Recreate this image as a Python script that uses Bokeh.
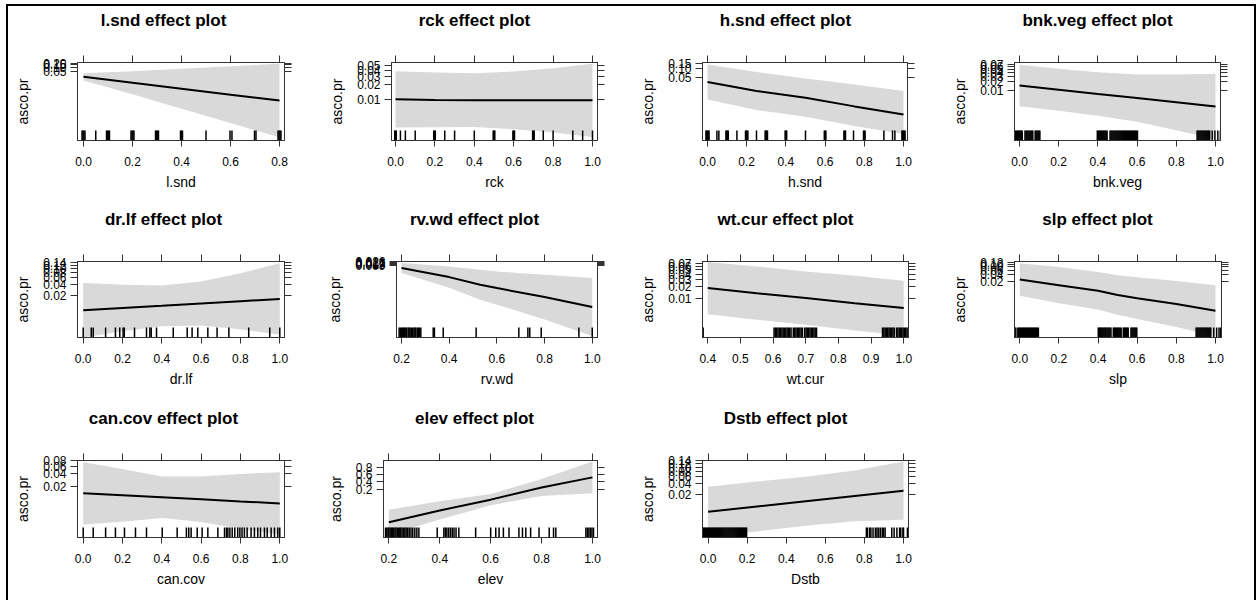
import math
from bokeh.plotting import figure
from bokeh.models import (FixedTicker, LinearAxis, Range1d, PrintfTickFormatter, Div, AllLabels)
from bokeh.layouts import column, row
from bokeh.embed import file_html
from bokeh.resources import INLINE

# ---------------- data: fitted effect and 95% band on the logit scale, rug = observed x ----------
lsnd_x = [0.0, 0.2, 0.4, 0.6, 0.8]
lsnd_fit = [-3.97, -5.08, -6.20, -7.31, -8.42]
lsnd_lower = [-4.64, -7.24, -9.93, -12.64, -15.31]
lsnd_upper = [-3.30, -2.92, -2.47, -1.98, -1.53]
lsnd_rug = [-0.006, -0.002, 0.002, 0.006, 0.05, 0.094, 0.098, 0.102, 0.106, 0.194, 0.198, 0.202,
            0.206, 0.294, 0.298, 0.302, 0.306, 0.396, 0.400, 0.404, 0.500, 0.598, 0.606, 0.698,
            0.704, 0.794, 0.798, 0.802, 0.806]
lsnd_yticks = [0.05, 0.10, 0.15, 0.20]
lsnd_ylabels = ["0.05", "0.10", "0.15", "0.20"]
lsnd_xticks = [0.0, 0.2, 0.4, 0.6, 0.8]
lsnd_xlim = [-0.0245, 0.8204]
lsnd_ylim = [-15.9, -1.29]

rck_x = [0.0, 0.2, 0.4, 0.6, 0.8, 1.0]
rck_fit = [-4.59, -4.62, -4.63, -4.64, -4.64, -4.64]
rck_lower = [-5.96, -5.95, -5.94, -6.04, -6.20, -6.42]
rck_upper = [-3.22, -3.29, -3.32, -3.24, -3.08, -2.86]
rck_rug = [-0.004, 0.0, 0.004, 0.025, 0.05, 0.10, 0.194, 0.198, 0.202, 0.25, 0.30, 0.40, 0.496,
           0.50, 0.504, 0.596, 0.60, 0.604, 0.696, 0.70, 0.704, 0.75, 0.80, 0.90, 0.95, 1.0]
rck_yticks = [0.01, 0.02, 0.03, 0.04, 0.05]
rck_ylabels = ["0.01", "0.02", "0.03", "0.04", "0.05"]
rck_xticks = [0.0, 0.2, 0.4, 0.6, 0.8, 1.0]
rck_xlim = [-0.0203, 1.0254]
rck_ylim = [-6.59, -2.80]

hsnd_x = [0.0, 0.25, 0.5, 0.75, 1.0]
hsnd_fit = [-3.32, -4.10, -4.67, -5.42, -6.11]
hsnd_lower = [-4.82, -5.74, -6.31, -7.10, -7.80]
hsnd_upper = [-1.82, -2.46, -3.03, -3.55, -4.10]
hsnd_rug = [-0.008, -0.004, 0.0, 0.004, 0.008, 0.048, 0.058, 0.094, 0.098, 0.102, 0.106, 0.15,
            0.194, 0.198, 0.202, 0.206, 0.25, 0.294, 0.298, 0.302, 0.306, 0.396, 0.40, 0.404,
            0.50, 0.596, 0.60, 0.604, 0.696, 0.70, 0.704, 0.745, 0.796, 0.80, 0.804, 0.90,
            0.944, 0.956, 0.992, 0.996, 1.0, 1.004, 1.008]
hsnd_yticks = [0.05, 0.10, 0.15]
hsnd_ylabels = ["0.05", "0.10", "0.15"]
hsnd_xticks = [0.0, 0.2, 0.4, 0.6, 0.8, 1.0]
hsnd_xlim = [-0.0255, 1.0204]
hsnd_ylim = [-8.35, -1.65]

bnk_x = [0.0, 0.2, 0.4, 0.6, 0.8, 1.0]
bnk_fit = [-4.21, -4.54, -4.87, -5.19, -5.52, -5.85]
bnk_lower = [-5.83, -6.18, -6.57, -7.03, -7.69, -8.41]
bnk_upper = [-2.59, -2.90, -3.17, -3.35, -3.35, -3.29]
bnk_rug = [-0.024, -0.019, -0.014, -0.009, -0.004, 0.0, 0.004, 0.009, 0.014, 0.028, 0.033, 0.038,
           0.043, 0.048, 0.053, 0.058, 0.063, 0.068, 0.080, 0.085, 0.090, 0.095, 0.100, 0.104,
           0.397, 0.402, 0.407, 0.412, 0.417, 0.422, 0.427, 0.432, 0.437, 0.442, 0.447, 0.462,
           0.467, 0.472, 0.477, 0.482, 0.487, 0.492, 0.497, 0.502, 0.507, 0.512, 0.517, 0.522,
           0.527, 0.532, 0.537, 0.542, 0.547, 0.552, 0.557, 0.562, 0.567, 0.572, 0.577, 0.582,
           0.587, 0.592, 0.597, 0.602, 0.906, 0.911, 0.916, 0.921, 0.926, 0.931, 0.936, 0.941,
           0.946, 0.951, 0.956, 0.961, 0.966, 0.970, 0.983, 0.997, 1.012, 1.025]
bnk_yticks = [0.01, 0.02, 0.03, 0.04, 0.05, 0.06, 0.07]
bnk_ylabels = ["0.01", "0.02", "0.03", "0.04", "0.05", "0.06", "0.07"]
bnk_xticks = [0.0, 0.2, 0.4, 0.6, 0.8, 1.0]
bnk_xlim = [-0.0255, 1.0255]
bnk_ylim = [-8.50, -2.41]

drlf_x = [0.0, 0.2, 0.4, 0.6, 0.8, 1.0]
drlf_fit = [-4.83, -4.69, -4.55, -4.40, -4.26, -4.12]
drlf_lower = [-6.55, -6.16, -5.84, -5.79, -6.03, -6.38]
drlf_upper = [-3.11, -3.22, -3.26, -3.01, -2.49, -1.86]
drlf_rug = [0.0, 0.041, 0.051, 0.114, 0.164, 0.186, 0.203, 0.209, 0.261, 0.322, 0.339, 0.346,
            0.373, 0.458, 0.529, 0.554, 0.583, 0.634, 0.681, 0.741, 0.842, 0.949, 1.0]
drlf_yticks = [0.02, 0.04, 0.06, 0.08, 0.10, 0.12, 0.14]
drlf_ylabels = ["0.02", "0.04", "0.06", "0.08", "0.10", "0.12", "0.14"]
drlf_xticks = [0.0, 0.2, 0.4, 0.6, 0.8, 1.0]
drlf_xlim = [-0.029, 1.024]
drlf_ylim = [-6.55, -1.75]

rvwd_x = [0.2, 0.4, 0.53, 0.6, 0.8, 1.0]
rvwd_fit = [-5.33, -7.77, -9.85, -10.74, -13.17, -15.88]
rvwd_lower = [-6.68, -10.64, -13.91, -15.23, -19.20, -23.72]
rvwd_upper = [-3.98, -4.90, -5.79, -6.25, -7.14, -8.04]
rvwd_rug = [0.190, 0.195, 0.200, 0.205, 0.209, 0.213, 0.218, 0.222, 0.228, 0.232, 0.236, 0.241,
            0.246, 0.252, 0.256, 0.260, 0.266, 0.271, 0.276, 0.281, 0.333, 0.338, 0.375, 0.513,
            0.692, 0.730, 0.738, 0.786, 0.944, 1.0]
rvwd_yticks = [0.009, 0.013, 0.017, 0.021, 0.026]
rvwd_ylabels = ["0.009", "0.013", "0.017", "0.021", "0.026"]
rvwd_xticks = [0.2, 0.4, 0.6, 0.8, 1.0]
rvwd_xlim = [0.179, 1.022]
rvwd_ylim = [-24.1, -3.55]

wtcur_x = [0.4, 0.55, 0.7, 0.85, 1.0]
wtcur_fit = [-3.98, -4.27, -4.55, -4.84, -5.12]
wtcur_lower = [-5.47, -5.79, -6.07, -6.40, -6.68]
wtcur_upper = [-2.49, -2.75, -3.03, -3.28, -3.56]
wtcur_rug = [0.386, 0.603, 0.607, 0.611, 0.615, 0.619, 0.623, 0.627, 0.631, 0.635, 0.639, 0.643,
             0.647, 0.651, 0.655, 0.662, 0.666, 0.670, 0.674, 0.678, 0.682, 0.686, 0.690, 0.697,
             0.701, 0.705, 0.709, 0.713, 0.717, 0.721, 0.725, 0.729, 0.733, 0.935, 0.939, 0.943,
             0.947, 0.951, 0.955, 0.959, 0.963, 0.967, 0.971, 0.978, 0.982, 0.986, 0.990, 0.994,
             0.998, 1.002, 1.006, 1.010, 1.014]
wtcur_yticks = [0.01, 0.02, 0.03, 0.04, 0.05, 0.06, 0.07]
wtcur_ylabels = ["0.01", "0.02", "0.03", "0.04", "0.05", "0.06", "0.07"]
wtcur_xticks = [0.4, 0.5, 0.6, 0.7, 0.8, 0.9, 1.0]
wtcur_xlim = [0.384, 1.0145]
wtcur_ylim = [-6.80, -2.46]

slp_x = [0.0, 0.2, 0.4, 0.5, 0.6, 0.8, 1.0]
slp_fit = [-3.66, -4.21, -4.75, -5.16, -5.47, -6.04, -6.68]
slp_lower = [-5.24, -5.96, -6.56, -7.07, -7.50, -8.26, -9.15]
slp_upper = [-2.08, -2.46, -2.94, -3.25, -3.44, -3.82, -4.21]
slp_rug = [-0.025, -0.020, -0.010, -0.005, 0.0, 0.005, 0.010, 0.015, 0.020, 0.025, 0.030, 0.035,
           0.040, 0.045, 0.050, 0.055, 0.060, 0.065, 0.070, 0.075, 0.080, 0.085, 0.090, 0.095,
           0.401, 0.406, 0.411, 0.416, 0.421, 0.426, 0.431, 0.436, 0.441, 0.446, 0.451, 0.456,
           0.461, 0.466, 0.478, 0.483, 0.488, 0.493, 0.498, 0.503, 0.508, 0.513, 0.518, 0.529,
           0.534, 0.539, 0.544, 0.549, 0.554, 0.568, 0.573, 0.578, 0.583, 0.588, 0.593, 0.598,
           0.901, 0.906, 0.911, 0.916, 0.921, 0.926, 0.931, 0.936, 0.941, 0.946, 0.951, 0.956,
           0.961, 0.966, 0.971, 0.976, 0.991, 1.006, 1.018, 1.026]
slp_yticks = [0.02, 0.04, 0.06, 0.08, 0.10, 0.12]
slp_ylabels = ["0.02", "0.04", "0.06", "0.08", "0.10", "0.12"]
slp_xticks = [0.0, 0.2, 0.4, 0.6, 0.8, 1.0]
slp_xlim = [-0.027, 1.0307]
slp_ylim = [-9.28, -1.92]

cancov_x = [0.0, 0.2, 0.4, 0.6, 0.8, 1.0]
cancov_fit = [-4.27, -4.38, -4.49, -4.60, -4.72, -4.83]
cancov_lower = [-6.01, -5.86, -5.65, -5.87, -6.26, -6.57]
cancov_upper = [-2.53, -2.90, -3.33, -3.33, -3.18, -3.09]
cancov_rug = [0.0, 0.051, 0.114, 0.164, 0.21, 0.266, 0.322, 0.402, 0.478, 0.525, 0.537, 0.549,
              0.58, 0.605, 0.634, 0.685, 0.719, 0.729, 0.736, 0.746, 0.758, 0.771, 0.786, 0.797,
              0.808, 0.82, 0.834, 0.854, 0.871, 0.888, 0.902, 0.922, 0.936, 0.956, 0.973, 0.99,
              1.0]
cancov_yticks = [0.02, 0.04, 0.06, 0.08]
cancov_ylabels = ["0.02", "0.04", "0.06", "0.08"]
cancov_xticks = [0.0, 0.2, 0.4, 0.6, 0.8, 1.0]
cancov_xlim = [-0.029, 1.024]
cancov_ylim = [-6.74, -2.43]

elev_x = [0.2, 0.4, 0.6, 0.8, 1.0]
elev_fit = [-5.44, -3.97, -2.64, -1.14, 0.11]
elev_lower = [-6.98, -5.10, -3.34, -2.18, -1.85]
elev_upper = [-3.89, -2.85, -1.94, -0.10, 2.07]
elev_rug = [0.187, 0.192, 0.197, 0.200, 0.205, 0.210, 0.214, 0.219, 0.224, 0.228, 0.233, 0.238,
            0.243, 0.247, 0.252, 0.258, 0.263, 0.268, 0.274, 0.280, 0.287, 0.294, 0.302, 0.310,
            0.318, 0.390, 0.416, 0.422, 0.428, 0.435, 0.442, 0.449, 0.456, 0.464, 0.475, 0.541,
            0.600, 0.620, 0.633, 0.650, 0.672, 0.711, 0.725, 0.738, 0.757, 0.790, 0.830, 0.847,
            0.856, 0.974, 0.980, 0.986, 0.992, 0.998, 1.004]
elev_yticks = [0.2, 0.4, 0.6, 0.8]
elev_ylabels = ["0.2", "0.4", "0.6", "0.8"]
elev_xticks = [0.2, 0.4, 0.6, 0.8, 1.0]
elev_xlim = [0.179, 1.0197]
elev_ylim = [-7.31, 2.19]

dstb_x = [0.0, 0.25, 0.5, 0.75, 1.0]
dstb_fit = [-4.91, -4.59, -4.27, -3.95, -3.63]
dstb_lower = [-6.43, -6.10, -5.76, -5.49, -5.40]
dstb_upper = [-3.39, -3.08, -2.78, -2.41, -1.86]
dstb_rug = [-0.028, -0.023, -0.018, -0.013, -0.008, -0.003, 0.002, 0.007, 0.012, 0.017, 0.022,
            0.027, 0.032, 0.037, 0.042, 0.047, 0.052, 0.057, 0.062, 0.067, 0.072, 0.077, 0.082,
            0.087, 0.092, 0.097, 0.102, 0.107, 0.112, 0.117, 0.122, 0.127, 0.132, 0.137, 0.142,
            0.147, 0.152, 0.157, 0.162, 0.167, 0.172, 0.177, 0.182, 0.187, 0.192, 0.197, 0.81,
            0.816, 0.827, 0.833, 0.844, 0.856, 0.864, 0.872, 0.881, 0.891, 0.898, 0.906, 0.94,
            0.952, 0.966, 0.98, 0.986, 0.997, 1.0, 1.02]
dstb_yticks = [0.02, 0.04, 0.06, 0.08, 0.10, 0.12, 0.14]
dstb_ylabels = ["0.02", "0.04", "0.06", "0.08", "0.10", "0.12", "0.14"]
dstb_xticks = [0.0, 0.2, 0.4, 0.6, 0.8, 1.0]
dstb_xlim = [-0.0286, 1.0255]
dstb_ylim = [-6.47, -1.80]

# ---------------- layout / style ----------------
FONT = "Liberation Sans"
BOX = "#333333"
BAND = "#d9d9d9"
COL_X0 = [8, 319, 630, 941]
COL_W = [311, 311, 311, 313]
ROW_Y0 = [6, 205, 404]
ROW_H = [199, 199, 196]
ROW_BOX = [(62, 140), (261, 337), (460, 537)]
TITLE_H = 30


def logit(p):
    return math.log(p / (1.0 - p))


def style_axis(ax, tick_out, show_labels):
    ax.axis_line_color = BOX
    ax.major_tick_line_color = BOX
    ax.major_tick_in = 0
    ax.major_tick_out = tick_out
    ax.minor_tick_line_color = None
    ax.major_label_policy = AllLabels()
    if show_labels:
        ax.major_label_text_font = FONT
        ax.major_label_text_font_size = "12px"
        ax.major_label_text_color = "black"
        ax.axis_label_text_font = FONT
        ax.axis_label_text_font_size = "14px"
        ax.axis_label_text_font_style = "normal"
        ax.axis_label_text_color = "black"
    else:
        ax.major_label_text_color = None
        ax.major_label_standoff = 0


def panel(name, x, fit, lower, upper, rug, yticks, ylabels, xticks, xlim, ylim,
          box_l, box_r, r, c):
    top, bot = ROW_BOX[r]
    fh = bot - top
    fig_top = ROW_Y0[r] + TITLE_H
    L = box_l - COL_X0[c]
    R = COL_X0[c] + COL_W[c] - box_r
    T = top - fig_top
    B = ROW_Y0[r] + ROW_H[r] - bot
    p = figure(width=COL_W[c], height=ROW_H[r] - TITLE_H, x_range=Range1d(*xlim),
               y_range=Range1d(*ylim), x_axis_type=None, y_axis_type=None,
               toolbar_location=None, output_backend="svg", min_border_left=L,
               min_border_right=R, min_border_top=T, min_border_bottom=B)
    p.outline_line_color = BOX
    p.outline_line_width = 1
    p.background_fill_color = "white"
    p.border_fill_color = "white"
    p.extra_y_ranges = {"rug": Range1d(0, fh)}

    xt = FixedTicker(ticks=xticks)
    yt_vals = [logit(v) for v in yticks]
    yt = FixedTicker(ticks=yt_vals)

    bottom = LinearAxis(ticker=xt, formatter=PrintfTickFormatter(format="%.1f"), axis_label=name)
    style_axis(bottom, 6, True)
    bottom.major_label_standoff = 10
    bottom.axis_label_standoff = 5
    p.add_layout(bottom, "below")

    topax = LinearAxis(ticker=xt)
    style_axis(topax, 7, False)
    p.add_layout(topax, "above")

    left = LinearAxis(ticker=yt, axis_label="asco.pr",
                      major_label_overrides={t: s for t, s in zip(yt_vals, ylabels)})
    style_axis(left, 7, True)
    left.major_label_standoff = 4
    left.axis_label_standoff = 9
    p.add_layout(left, "left")

    right = LinearAxis(ticker=yt)
    style_axis(right, 7, False)
    p.add_layout(right, "right")

    p.varea(x=x, y1=lower, y2=upper, fill_color=BAND, fill_alpha=1.0)
    p.line(x=x, y=fit, line_color="black", line_width=2)
    p.segment(x0=rug, y0=0, x1=rug, y1=10, y_range_name="rug",
              line_color="black", line_width=1.5)

    title = Div(text=(f'<div style="width:{COL_W[c]}px;text-align:center;'
                      f'font-family:\'{FONT}\';font-weight:bold;font-size:17px;'
                      f'line-height:{TITLE_H}px;color:black;white-space:nowrap">'
                      f'{name} effect plot</div>'),
                width=COL_W[c], height=TITLE_H, margin=(0, 0, 0, 0))
    return column(title, p)


p1 = panel("l.snd", lsnd_x, lsnd_fit, lsnd_lower, lsnd_upper, lsnd_rug, lsnd_yticks,
           lsnd_ylabels, lsnd_xticks, lsnd_xlim, lsnd_ylim, 77, 284, 0, 0)
p2 = panel("rck", rck_x, rck_fit, rck_lower, rck_upper, rck_rug, rck_yticks,
           rck_ylabels, rck_xticks, rck_xlim, rck_ylim, 391, 597, 0, 1)
p3 = panel("h.snd", hsnd_x, hsnd_fit, hsnd_lower, hsnd_upper, hsnd_rug, hsnd_yticks,
           hsnd_ylabels, hsnd_xticks, hsnd_xlim, hsnd_ylim, 702, 907, 0, 2)
p4 = panel("bnk.veg", bnk_x, bnk_fit, bnk_lower, bnk_upper, bnk_rug, bnk_yticks,
           bnk_ylabels, bnk_xticks, bnk_xlim, bnk_ylim, 1014, 1220, 0, 3)
p5 = panel("dr.lf", drlf_x, drlf_fit, drlf_lower, drlf_upper, drlf_rug, drlf_yticks,
           drlf_ylabels, drlf_xticks, drlf_xlim, drlf_ylim, 77, 284, 1, 0)
p6 = panel("rv.wd", rvwd_x, rvwd_fit, rvwd_lower, rvwd_upper, rvwd_rug, rvwd_yticks,
           rvwd_ylabels, rvwd_xticks, rvwd_xlim, rvwd_ylim, 396, 597, 1, 1)
p7 = panel("wt.cur", wtcur_x, wtcur_fit, wtcur_lower, wtcur_upper, wtcur_rug, wtcur_yticks,
           wtcur_ylabels, wtcur_xticks, wtcur_xlim, wtcur_ylim, 702, 908, 1, 2)
p8 = panel("slp", slp_x, slp_fit, slp_lower, slp_upper, slp_rug, slp_yticks,
           slp_ylabels, slp_xticks, slp_xlim, slp_ylim, 1014, 1221, 1, 3)
p9 = panel("can.cov", cancov_x, cancov_fit, cancov_lower, cancov_upper, cancov_rug,
           cancov_yticks, cancov_ylabels, cancov_xticks, cancov_xlim, cancov_ylim,
           77, 284, 2, 0)
p10 = panel("elev", elev_x, elev_fit, elev_lower, elev_upper, elev_rug, elev_yticks,
            elev_ylabels, elev_xticks, elev_xlim, elev_ylim, 383, 597, 2, 1)
p11 = panel("Dstb", dstb_x, dstb_fit, dstb_lower, dstb_upper, dstb_rug, dstb_yticks,
            dstb_ylabels, dstb_xticks, dstb_xlim, dstb_ylim, 702, 908, 2, 2)

grid = column(row(p1, p2, p3, p4), row(p5, p6, p7, p8), row(p9, p10, p11))
top_border = Div(text="", width=1250, height=2, margin=(4, 0, 0, 6),
                 styles={"background-color": "black"})
left_border = Div(text="", width=2, height=594, margin=(0, 0, 0, 6),
                  styles={"background-color": "black"})
right_border = Div(text="", width=2, height=594, margin=(0, 0, 0, 0),
                   styles={"background-color": "black"})
page = column(top_border, row(left_border, grid, right_border))

open("out.html", "w").write(file_html(page, INLINE))
